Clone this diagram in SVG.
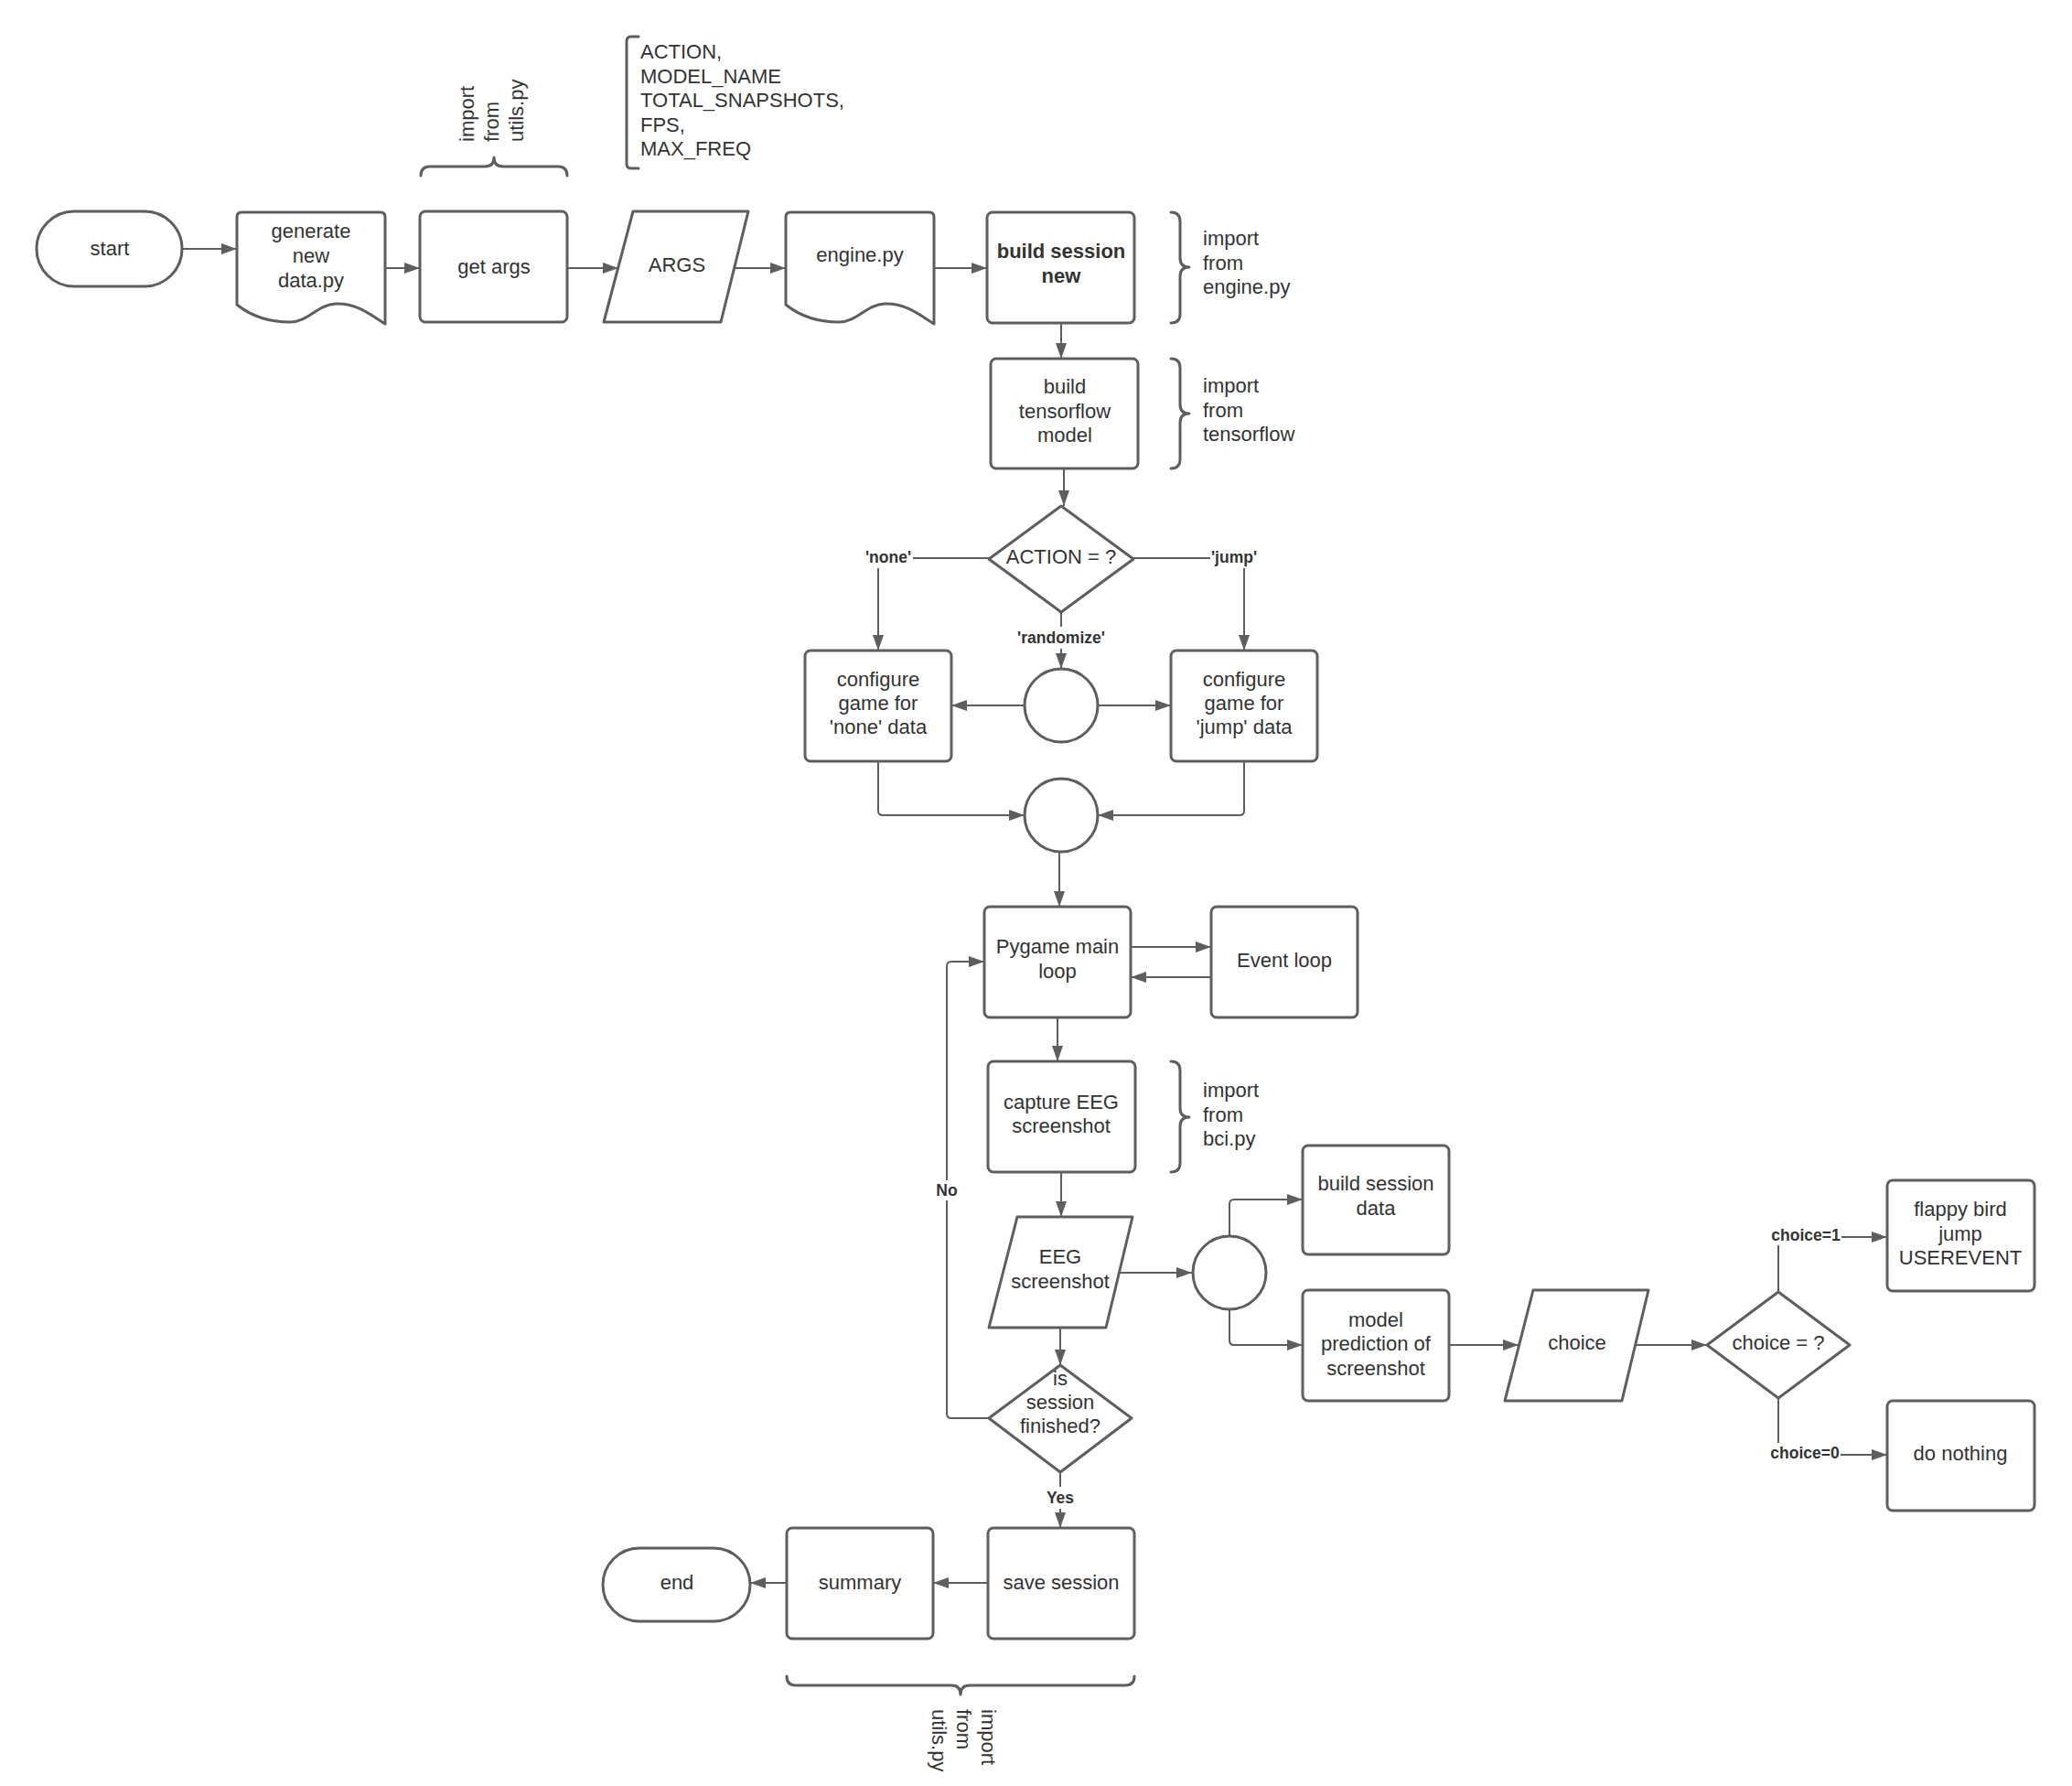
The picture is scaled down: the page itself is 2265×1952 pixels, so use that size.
<svg xmlns="http://www.w3.org/2000/svg" width="2265" height="1952" viewBox="0 0 2265 1952">
<style>
.s{fill:#fff;stroke:#5e5e5e;stroke-width:3;stroke-linejoin:round}
.t{font-family:"Liberation Sans",Arial,sans-serif;font-size:22px;fill:#333;text-anchor:middle}
.a{font-family:"Liberation Sans",Arial,sans-serif;font-size:22px;fill:#333}
.b{font-weight:bold}
.c{fill:none;stroke:#5e5e5e;stroke-width:2;stroke-linejoin:round}
.ca{fill:none;stroke:#5e5e5e;stroke-width:2;stroke-linejoin:round;marker-end:url(#ah)}
.lb{fill:#fff;stroke:none}
.l{font-family:"Liberation Sans",Arial,sans-serif;font-size:17.5px;font-weight:bold;fill:#333;text-anchor:middle}
.br{fill:none;stroke:#5e5e5e;stroke-width:3;stroke-linejoin:round;stroke-linecap:round}
</style>
<defs>
<marker id="ah" markerUnits="userSpaceOnUse" markerWidth="17" markerHeight="12" refX="17" refY="6" orient="auto">
<path d="M0,0 L17,6 L0,12 Z" fill="#5e5e5e"/>
</marker>
</defs>
<rect width="2265" height="1952" fill="#fff"/>

<g id="connectors">
<path class="ca" d="M199,272 H259"/>
<path class="ca" d="M421,293 H459"/>
<path class="ca" d="M620,293 H676"/>
<path class="ca" d="M803,293 H859"/>
<path class="ca" d="M1021,293 H1079"/>
<path class="ca" d="M1160,353 V392"/>
<path class="ca" d="M1163,512 V553"/>
<path class="ca" d="M1081,610 H960 V711"/>
<path class="ca" d="M1238,610 H1360 V711"/>
<path class="ca" d="M1160,669 V731"/>
<path class="ca" d="M1120,771 H1040"/>
<path class="ca" d="M1200,771 H1280"/>
<path class="ca" d="M960,832 V886 Q960,891 965,891 H1120"/>
<path class="ca" d="M1360,832 V886 Q1360,891 1355,891 H1200"/>
<path class="ca" d="M1158,931 V991"/>
<path class="ca" d="M1236,1035 H1324"/>
<path class="ca" d="M1324,1068 H1236"/>
<path class="ca" d="M1156,1112 V1160"/>
<path class="ca" d="M1160,1281 V1330"/>
<path class="ca" d="M1224,1391 H1303"/>
<path class="ca" d="M1344,1351 V1316 Q1344,1311 1349,1311 H1424"/>
<path class="ca" d="M1344,1431 V1465 Q1344,1470 1349,1470 H1424"/>
<path class="ca" d="M1584,1470 H1660"/>
<path class="ca" d="M1788,1470 H1866"/>
<path class="ca" d="M1944,1412 V1352 H2063"/>
<path class="ca" d="M1944,1528 V1590 H2063"/>
<path class="ca" d="M1159,1451 V1492"/>
<path class="ca" d="M1081,1550 H1040 Q1035,1550 1035,1545 V1056 Q1035,1051 1040,1051 H1076"/>
<path class="ca" d="M1159,1609 V1670"/>
<path class="ca" d="M1080,1730 H1020"/>
<path class="ca" d="M860,1730 H820"/>
<rect class="lb" x="945" y="599" width="53" height="22"/>
<text class="l" x="971" y="615">'none'</text>
<rect class="lb" x="1323" y="599" width="52" height="22"/>
<text class="l" x="1349" y="615">'jump'</text>
<rect class="lb" x="1111" y="685" width="98" height="24"/>
<text class="l" x="1160" y="703">'randomize'</text>
<rect class="lb" x="1022" y="1290" width="26" height="22"/>
<text class="l" x="1035" y="1307">No</text>
<rect class="lb" x="1142" y="1625" width="34" height="24"/>
<text class="l" x="1159" y="1643">Yes</text>
<rect class="lb" x="1935" y="1339" width="78" height="22"/>
<text class="l" x="1974" y="1356">choice=1</text>
<rect class="lb" x="1934" y="1577" width="78" height="22"/>
<text class="l" x="1973" y="1594">choice=0</text>
</g>

<g id="start">
<rect class="s" x="40" y="231" width="159" height="82" rx="41"/>
<text class="t" x="120" y="279">start</text>
</g>
<g id="generate">
<path class="s" d="M264,232 H416 Q421,232 421,237 V354 C404,343 389,331 367,332 C347,333 337,352 317,352 C294,352 274,345 259,333 V237 Q259,232 264,232 Z"/>
<text class="t" x="340" y="260">generate</text>
<text class="t" x="340" y="287">new</text>
<text class="t" x="340" y="314">data.py</text>
</g>
<g id="getargs">
<rect class="s" x="459" y="231" width="161" height="121" rx="6"/>
<text class="t" x="540" y="299">get args</text>
</g>
<g id="args">
<path class="s" d="M692,231 H818 L788,352 H660 Z"/>
<text class="t" x="740" y="297">ARGS</text>
</g>
<g id="engine">
<path class="s" d="M864,232 H1016 Q1021,232 1021,237 V354 C1004,343 989,331 967,332 C947,333 937,352 917,352 C894,352 874,345 859,333 V237 Q859,232 864,232 Z"/>
<text class="t" x="940" y="286">engine.py</text>
</g>
<g id="buildsession">
<rect class="s" x="1079" y="232" width="161" height="121" rx="6"/>
<text class="t b" x="1160" y="282">build session</text>
<text class="t b" x="1160" y="309">new</text>
</g>
<g id="tensorflow">
<rect class="s" x="1083" y="392" width="161" height="120" rx="6"/>
<text class="t" x="1164" y="430">build</text>
<text class="t" x="1164" y="457">tensorflow</text>
<text class="t" x="1164" y="483">model</text>
</g>
<g id="action">
<path class="s" d="M1160,553 L1239,611 L1160,669 L1081,611 Z"/>
<text class="t" x="1160" y="616">ACTION = ?</text>
</g>
<g id="confnone">
<rect class="s" x="880" y="711" width="160" height="121" rx="6"/>
<text class="t" x="960" y="750">configure</text>
<text class="t" x="960" y="776">game for</text>
<text class="t" x="960" y="802">'none' data</text>
</g>
<g id="circle1">
<circle class="s" cx="1160" cy="771" r="40"/>
</g>
<g id="confjump">
<rect class="s" x="1280" y="711" width="160" height="121" rx="6"/>
<text class="t" x="1360" y="750">configure</text>
<text class="t" x="1360" y="776">game for</text>
<text class="t" x="1360" y="802">'jump' data</text>
</g>
<g id="circle2">
<circle class="s" cx="1160" cy="891" r="40"/>
</g>
<g id="pygame">
<rect class="s" x="1076" y="991" width="160" height="121" rx="6"/>
<text class="t" x="1156" y="1042">Pygame main</text>
<text class="t" x="1156" y="1069">loop</text>
</g>
<g id="eventloop">
<rect class="s" x="1324" y="991" width="160" height="121" rx="6"/>
<text class="t" x="1404" y="1057">Event loop</text>
</g>
<g id="capture">
<rect class="s" x="1080" y="1160" width="161" height="121" rx="6"/>
<text class="t" x="1160" y="1212">capture EEG</text>
<text class="t" x="1160" y="1238">screenshot</text>
</g>
<g id="eegshot">
<path class="s" d="M1112,1330 H1238 L1209,1451 H1081 Z"/>
<text class="t" x="1159" y="1381">EEG</text>
<text class="t" x="1159" y="1408">screenshot</text>
</g>
<g id="circle3">
<circle class="s" cx="1344" cy="1391" r="40"/>
</g>
<g id="sessiondata">
<rect class="s" x="1424" y="1252" width="160" height="119" rx="6"/>
<text class="t" x="1504" y="1301">build session</text>
<text class="t" x="1504" y="1328">data</text>
</g>
<g id="prediction">
<rect class="s" x="1424" y="1410" width="160" height="121" rx="6"/>
<text class="t" x="1504" y="1450">model</text>
<text class="t" x="1504" y="1476">prediction of</text>
<text class="t" x="1504" y="1503">screenshot</text>
</g>
<g id="choice">
<path class="s" d="M1676,1410 H1802 L1773,1531 H1645 Z"/>
<text class="t" x="1724" y="1475">choice</text>
</g>
<g id="choicediamond">
<path class="s" d="M1944,1412 L2022,1470 L1944,1528 L1866,1470 Z"/>
<text class="t" x="1944" y="1475">choice = ?</text>
</g>
<g id="flappy">
<rect class="s" x="2063" y="1290" width="161" height="121" rx="6"/>
<text class="t" x="2143" y="1329">flappy bird</text>
<text class="t" x="2143" y="1356">jump</text>
<text class="t" x="2143" y="1382">USEREVENT</text>
</g>
<g id="donothing">
<rect class="s" x="2063" y="1531" width="161" height="120" rx="6"/>
<text class="t" x="2143" y="1596">do nothing</text>
</g>
<g id="finished">
<path class="s" d="M1159,1492 L1237,1550 L1159,1609 L1081,1550 Z"/>
<text class="t" x="1159" y="1514">is</text>
<text class="t" x="1159" y="1540">session</text>
<text class="t" x="1159" y="1566">finished?</text>
</g>
<g id="save">
<rect class="s" x="1080" y="1670" width="160" height="121" rx="6"/>
<text class="t" x="1160" y="1737">save session</text>
</g>
<g id="summary">
<rect class="s" x="860" y="1670" width="160" height="121" rx="6"/>
<text class="t" x="940" y="1737">summary</text>
</g>
<g id="end">
<rect class="s" x="659" y="1692" width="161" height="80" rx="40"/>
<text class="t" x="740" y="1737">end</text>
</g>

<g id="annotations">
<path class="br" d="M460,192 Q460,182 470,182 H530 Q540,182 540,172 Q540,182 550,182 H610 Q620,182 620,192"/>
<text class="a" transform="translate(518,155) rotate(-90)"><tspan x="0" y="0">import</tspan><tspan x="0" y="27">from</tspan><tspan x="0" y="54">utils.py</tspan></text>
<path class="br" d="M698,40 H690 Q685,40 685,45 V179 Q685,184 690,184 H698"/>
<text class="a" x="700" y="64">ACTION,</text>
<text class="a" x="700" y="90.5">MODEL_NAME</text>
<text class="a" x="700" y="117">TOTAL_SNAPSHOTS,</text>
<text class="a" x="700" y="143.5">FPS,</text>
<text class="a" x="700" y="170">MAX_FREQ</text>
<path class="br" d="M1280,232 Q1290,232 1290,242 V282 Q1290,292 1300,292 Q1290,292 1290,302 V343 Q1290,353 1280,353"/>
<text class="a" x="1315" y="268">import</text>
<text class="a" x="1315" y="294.5">from</text>
<text class="a" x="1315" y="321">engine.py</text>
<path class="br" d="M1280,392 Q1290,392 1290,402 V442 Q1290,452 1300,452 Q1290,452 1290,462 V502 Q1290,512 1280,512"/>
<text class="a" x="1315" y="429">import</text>
<text class="a" x="1315" y="455.5">from</text>
<text class="a" x="1315" y="482">tensorflow</text>
<path class="br" d="M1280,1160 Q1290,1160 1290,1170 V1211 Q1290,1221 1300,1221 Q1290,1221 1290,1231 V1271 Q1290,1281 1280,1281"/>
<text class="a" x="1315" y="1199">import</text>
<text class="a" x="1315" y="1225.5">from</text>
<text class="a" x="1315" y="1252">bci.py</text>
<path class="br" d="M860,1832 Q860,1842 870,1842 H1040 Q1050,1842 1050,1852 Q1050,1842 1060,1842 H1230 Q1240,1842 1240,1832"/>
<text class="a" transform="translate(1073,1868) rotate(90)"><tspan x="0" y="0">import</tspan><tspan x="0" y="27">from</tspan><tspan x="0" y="54">utils.py</tspan></text>
</g>
</svg>
